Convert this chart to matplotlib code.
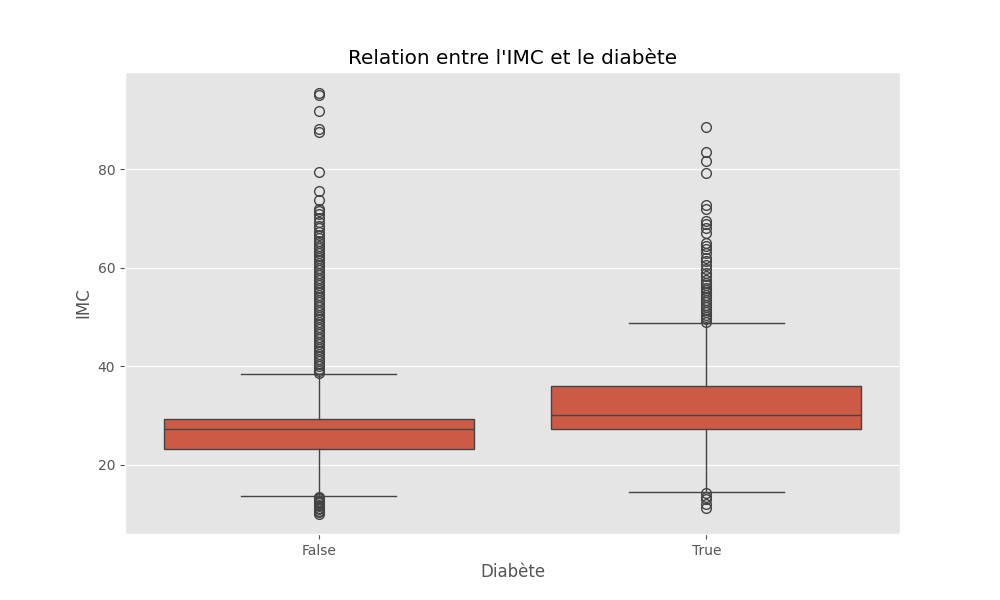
import matplotlib
matplotlib.use("Agg")
import matplotlib.pyplot as plt

plt.style.use("ggplot")

# values
categories = ["False", "True"]
q1 = [23.1, 27.3]
med = [27.3, 30.0]
q3 = [29.2, 35.9]
whislo = [13.7, 14.5]
whishi = [38.4, 48.8]

false_out = [10.0, 10.3, 10.6, 10.9, 11.2, 11.5, 11.8, 12.1, 12.4, 12.7, 13.0, 13.3, 13.5,
             38.6, 39.0, 39.5, 40.0, 40.5, 41.0, 41.5, 42.0, 42.5, 43.0, 43.5, 44.0, 44.5,
             45.0, 45.5, 46.0, 46.5, 47.0, 47.5, 48.0, 48.5, 49.0, 49.5, 50.0, 50.5, 51.0,
             51.5, 52.0, 52.5, 53.0, 53.5, 54.0, 54.5, 55.0, 55.5, 56.0, 56.5, 57.0, 57.5,
             58.0, 58.5, 59.0, 59.5, 60.0, 60.5, 61.0, 61.5, 62.0, 62.5, 63.0, 63.5, 64.0,
             64.5, 65.0, 65.5, 66.0, 66.6, 67.3, 68.0, 68.5, 69.3, 70.2, 71.0, 71.6, 72.0,
             73.8, 75.6, 79.5, 87.6, 88.3, 91.8, 95.1, 95.5]
true_out = [11.2, 12.0, 13.0, 13.5, 14.2,
            49.0, 49.5, 50.0, 50.5, 51.0, 51.5, 52.0, 52.5, 53.0, 53.5, 54.0, 54.5, 55.0,
            55.5, 56.0, 56.5, 57.0, 57.6, 58.3, 59.0, 59.8, 60.5, 61.3, 62.0, 63.0, 63.8,
            64.5, 65.0, 67.0, 68.0, 69.0, 69.5, 72.0, 72.7, 79.3, 81.8, 83.6, 88.6]
outliers = [false_out, true_out]

stats = []
for i in range(len(categories)):
    stats.append(dict(label=categories[i], q1=q1[i], med=med[i], q3=q3[i],
                      whislo=whislo[i], whishi=whishi[i], fliers=outliers[i]))

fig, ax = plt.subplots(figsize=(10, 6), dpi=100)
lc = "#444444"
ax.bxp(stats, positions=range(len(categories)), widths=0.8, patch_artist=True,
       boxprops=dict(facecolor="#CD5A45", edgecolor=lc, linewidth=1),
       medianprops=dict(color=lc, linewidth=1),
       whiskerprops=dict(color=lc, linewidth=1),
       capprops=dict(color=lc, linewidth=1),
       flierprops=dict(marker="o", markerfacecolor="none", markeredgecolor=lc,
                       markersize=7, linewidth=0))
ax.set_xlim(-0.5, 1.5)
ax.set_ylim(5.9, 99.8)
ax.set_yticks([20, 40, 60, 80])
ax.grid(axis="x", visible=False)
ax.set_title("Relation entre l'IMC et le diabète")
ax.set_xlabel("Diabète")
ax.set_ylabel("IMC")

plt.savefig("out.png", dpi=100)
